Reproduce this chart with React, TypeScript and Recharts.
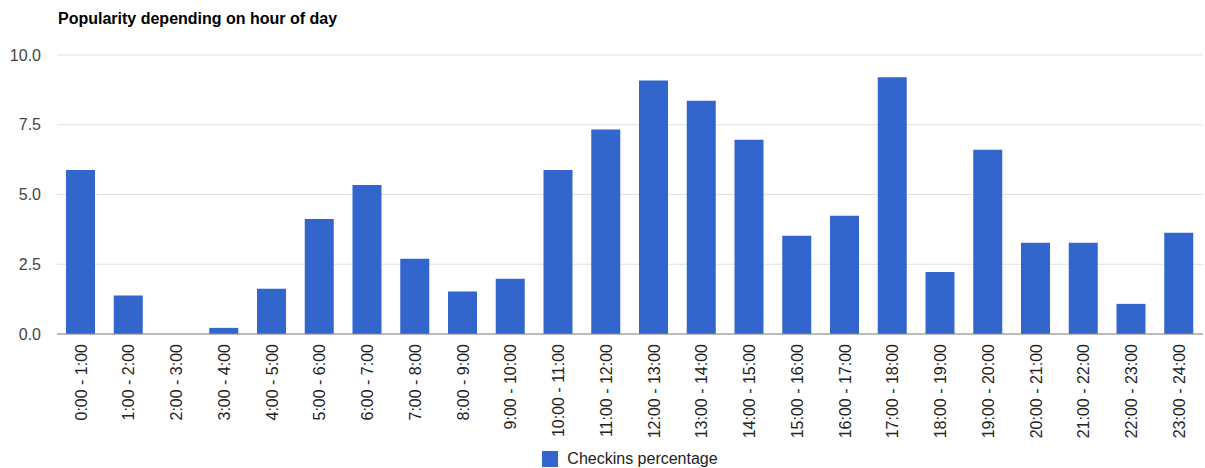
import React from "react";
import { BarChart, Bar, XAxis, YAxis, CartesianGrid, Legend } from "recharts";

// hour ranges shown on the x axis
const hours = [
  "0:00 - 1:00", "1:00 - 2:00", "2:00 - 3:00", "3:00 - 4:00", "4:00 - 5:00", "5:00 - 6:00",
  "6:00 - 7:00", "7:00 - 8:00", "8:00 - 9:00", "9:00 - 10:00", "10:00 - 11:00", "11:00 - 12:00",
  "12:00 - 13:00", "13:00 - 14:00", "14:00 - 15:00", "15:00 - 16:00", "16:00 - 17:00", "17:00 - 18:00",
  "18:00 - 19:00", "19:00 - 20:00", "20:00 - 21:00", "21:00 - 22:00", "22:00 - 23:00", "23:00 - 24:00",
];

// checkins percentage per hour
const checkins = [
  5.88, 1.38, 0, 0.22, 1.62, 4.12, 5.34, 2.7, 1.52, 1.98, 5.88, 7.33,
  9.09, 8.36, 6.96, 3.52, 4.24, 9.2, 2.22, 6.6, 3.27, 3.27, 1.08, 3.63,
];

const yTicks = [0, 2.5, 5, 7.5, 10];

const FONT = '"Liberation Sans", Arial, sans-serif';
const BLUE = "#3366cc";

const data = hours.map((hour, i) => ({ hour, value: checkins[i] }));

function HourTick(props: any) {
  const { x, y, payload } = props;
  return (
    <text
      x={x}
      y={y}
      transform={`rotate(-90, ${x}, ${y})`}
      textAnchor="end"
      dy="0.36em"
      fontSize={16}
      fontFamily={FONT}
      fill="#222"
    >
      {payload.value}
    </text>
  );
}

function LegendBox() {
  return (
    <div
      style={{
        height: 24,
        display: "flex",
        alignItems: "center",
        justifyContent: "center",
        fontFamily: FONT,
        transform: "translateY(3px)",
      }}
    >
      <span style={{ width: 16, height: 16, background: BLUE, display: "inline-block", marginRight: 9 }} />
      <span style={{ fontSize: 16, color: "#222" }}>Checkins percentage</span>
    </div>
  );
}

export default function App() {
  return (
    <div style={{ position: "absolute", left: 0, top: 0, width: 1205, height: 468, background: "#fff", fontFamily: FONT }}>
      <div style={{ position: "absolute", left: 58, top: 11, fontSize: 16, lineHeight: "16px", fontWeight: "bold", color: "#000" }}>
        Popularity depending on hour of day
      </div>
      <BarChart width={1205} height={468} data={data} margin={{ top: 55, right: 2, left: 0, bottom: 0 }}>
        <CartesianGrid vertical={false} stroke="#e0e0e0" strokeWidth={1} />
        <XAxis
          dataKey="hour"
          interval={0}
          height={110}
          tick={<HourTick />}
          tickLine={false}
          tickSize={6}
          tickMargin={4}
          axisLine={{ stroke: "#888", strokeWidth: 1 }}
        />
        <YAxis
          width={57}
          domain={[0, 10]}
          ticks={yTicks}
          tickFormatter={(v: number) => v.toFixed(1)}
          axisLine={false}
          tickLine={false}
          tickMargin={10}
          tick={{ fontSize: 16, fill: "#444", fontFamily: FONT }}
        />
        <Legend
          verticalAlign="bottom"
          content={() => <LegendBox />}
          wrapperStyle={{ left: 57, width: 1146, height: 24 }}
        />
        <Bar dataKey="value" fill={BLUE} barSize={29} isAnimationActive={false} />
      </BarChart>
    </div>
  );
}
